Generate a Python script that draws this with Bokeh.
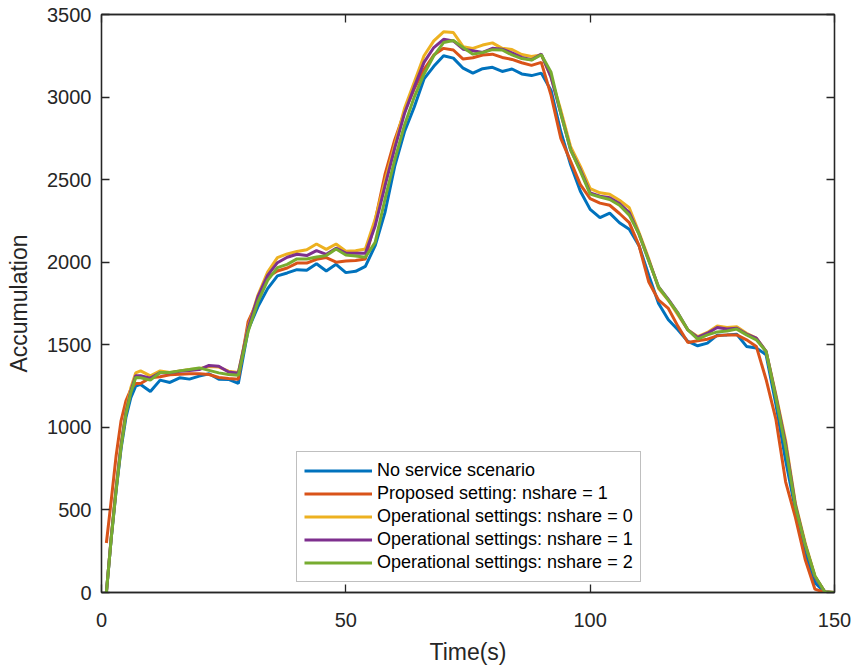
from bokeh.plotting import figure
from bokeh.models import ColumnDataSource, LinearAxis, Range1d, FixedTicker, Legend, LegendItem
from bokeh.embed import file_html
from bokeh.resources import INLINE

# ---------------- data ----------------
time_s = [1, 2, 3, 4, 5, 6, 7, 8, 10, 12, 14, 16, 18, 20, 22, 24, 26, 28, 30, 32, 34, 36, 38, 40,
          42, 44, 46, 48, 50, 52, 54, 56, 58, 60, 62, 64, 66, 68, 70, 72, 74, 76, 78, 80, 82, 84,
          86, 88, 90, 92, 94, 96, 98, 100, 102, 104, 106, 108, 110, 112, 114, 116, 118, 120, 122,
          124, 126, 128, 130, 132, 134, 136, 138, 140, 142, 144, 146, 148, 150]

no_service = [0, 330, 620, 870, 1060, 1180, 1250, 1260, 1217, 1286, 1272, 1300, 1292, 1310, 1325,
              1292, 1290, 1266, 1590, 1730, 1840, 1917, 1935, 1955, 1951, 1991, 1947, 1987, 1937,
              1945, 1975, 2100, 2300, 2580, 2790, 2940, 3110, 3186, 3250, 3236, 3175, 3145, 3172,
              3180, 3155, 3170, 3140, 3130, 3145, 3040, 2790, 2590, 2430, 2320, 2270, 2297, 2239,
              2199, 2100, 1920, 1750, 1652, 1590, 1520, 1494, 1510, 1558, 1560, 1564, 1490, 1480,
              1440, 1140, 800, 500, 240, 60, 2, 0]

proposed_n1 = [300, 560, 830, 1040, 1160, 1230, 1266, 1266, 1300, 1306, 1318, 1322, 1324, 1324,
               1320, 1302, 1296, 1292, 1640, 1770, 1910, 1947, 1965, 1995, 1995, 2018, 2028, 2000,
               2007, 2010, 2020, 2250, 2530, 2740, 2910, 3050, 3166, 3255, 3295, 3285, 3230, 3238,
               3255, 3260, 3240, 3228, 3208, 3192, 3210, 3010, 2750, 2611, 2470, 2385, 2358, 2345,
               2295, 2240, 2100, 1880, 1770, 1720, 1610, 1514, 1524, 1534, 1554, 1560, 1560, 1530,
               1490, 1290, 1050, 670, 455, 200, 20, 0, 0]

operational_n0 = [0, 340, 640, 900, 1100, 1240, 1330, 1342, 1312, 1342, 1332, 1342, 1350, 1355,
                  1368, 1365, 1340, 1332, 1610, 1800, 1940, 2028, 2050, 2065, 2075, 2110, 2078,
                  2110, 2066, 2070, 2080, 2260, 2490, 2710, 2930, 3090, 3250, 3340, 3395, 3391,
                  3305, 3295, 3315, 3328, 3295, 3288, 3258, 3246, 3255, 3120, 2920, 2700, 2580,
                  2445, 2420, 2412, 2375, 2330, 2180, 2020, 1840, 1770, 1680, 1590, 1550, 1575,
                  1614, 1605, 1610, 1570, 1540, 1460, 1200, 920, 540, 300, 100, 5, 0]

operational_n1 = [0, 335, 630, 890, 1090, 1220, 1312, 1312, 1298, 1332, 1330, 1340, 1345, 1350,
                  1375, 1370, 1335, 1328, 1600, 1790, 1920, 1997, 2030, 2048, 2040, 2070, 2048,
                  2085, 2055, 2055, 2055, 2220, 2460, 2690, 2900, 3060, 3210, 3300, 3350, 3340,
                  3290, 3280, 3270, 3295, 3290, 3268, 3240, 3226, 3260, 3120, 2900, 2680, 2560,
                  2420, 2400, 2390, 2355, 2300, 2170, 2010, 1850, 1775, 1690, 1590, 1545, 1570,
                  1605, 1595, 1600, 1565, 1540, 1460, 1190, 900, 530, 290, 95, 5, 0]

operational_n2 = [0, 330, 620, 880, 1080, 1210, 1302, 1300, 1286, 1332, 1332, 1342, 1350, 1360,
                  1345, 1330, 1320, 1316, 1580, 1760, 1890, 1967, 1987, 2020, 2020, 2031, 2040,
                  2080, 2044, 2038, 2030, 2120, 2380, 2620, 2830, 3000, 3140, 3250, 3330, 3343,
                  3300, 3260, 3270, 3287, 3285, 3255, 3233, 3224, 3256, 3150, 2900, 2680, 2550,
                  2412, 2395, 2380, 2345, 2285, 2170, 2007, 1850, 1770, 1690, 1590, 1534, 1560,
                  1578, 1584, 1595, 1560, 1530, 1460, 1180, 880, 520, 290, 100, 5, 0]

series_labels = ["No service scenario", "Proposed setting: nshare = 1",
                 "Operational settings: nshare = 0", "Operational settings: nshare = 1",
                 "Operational settings: nshare = 2"]
series_colors = ["#0072BD", "#D95319", "#EDB120", "#7E2F8E", "#77AC30"]
x_ticks = [0, 50, 100, 150]
y_ticks = [0, 500, 1000, 1500, 2000, 2500, 3000, 3500]

# ---------------- figure ----------------
FONT = "Liberation Sans"
AX = "#262626"

p = figure(width=854, height=667, output_backend="svg", toolbar_location=None,
           x_range=Range1d(0, 150), y_range=Range1d(0, 3500),
           min_border_left=101, min_border_right=20, min_border_top=14, min_border_bottom=75)
p.grid.visible = False
p.outline_line_color = AX
p.outline_line_width = 1.3
p.background_fill_color = "white"
p.border_fill_color = "white"

source = ColumnDataSource(dict(t=time_s, a=no_service, b=proposed_n1, c=operational_n0,
                               d=operational_n1, e=operational_n2))
renderers = []
for col, color in zip(["a", "b", "c", "d", "e"], series_colors):
    r = p.line("t", col, source=source, line_color=color, line_width=3)
    renderers.append(r)


def style_axis(ax, ticks, show_labels=True):
    ax.ticker = FixedTicker(ticks=ticks)
    ax.axis_line_color = AX
    ax.axis_line_width = 1.3
    ax.major_tick_line_color = AX
    ax.major_tick_line_width = 1.3
    ax.major_tick_in = 8
    ax.major_tick_out = 0
    ax.minor_tick_line_color = None
    ax.major_label_text_font = FONT
    ax.major_label_text_font_size = "20px"
    ax.major_label_text_color = AX
    ax.axis_label_text_font = FONT
    ax.axis_label_text_font_size = "23px"
    ax.axis_label_text_font_style = "normal"
    ax.axis_label_text_color = AX
    if not show_labels:
        ax.major_label_text_color = None
        ax.major_label_text_font_size = "1px"
        ax.major_label_standoff = 0


xaxis = p.xaxis[0]
yaxis = p.yaxis[0]
style_axis(xaxis, x_ticks)
style_axis(yaxis, y_ticks)
xaxis.axis_label = "Time(s)"
yaxis.axis_label = "Accumulation"
xaxis.major_label_standoff = 20
yaxis.major_label_standoff = 10
xaxis.axis_label_standoff = 9
yaxis.axis_label_standoff = 12

top_axis = LinearAxis()
right_axis = LinearAxis()
style_axis(top_axis, x_ticks, show_labels=False)
style_axis(right_axis, y_ticks, show_labels=False)
p.add_layout(top_axis, "above")
p.add_layout(right_axis, "right")

legend = Legend(items=[LegendItem(label=lab, renderers=[r]) for lab, r in zip(series_labels, renderers)],
                location=(195, 10))
legend.label_text_font = FONT
legend.label_text_font_size = "18px"
legend.label_text_color = "black"
legend.glyph_width = 68
legend.glyph_height = 23
legend.label_height = 23
legend.label_standoff = 5
legend.spacing = 0
legend.padding = 7
legend.margin = 0
legend.border_line_color = "#7f7f7f"
legend.border_line_width = 1
legend.background_fill_alpha = 1
p.add_layout(legend, "center")

open("out.html", "w").write(file_html(p, INLINE))
